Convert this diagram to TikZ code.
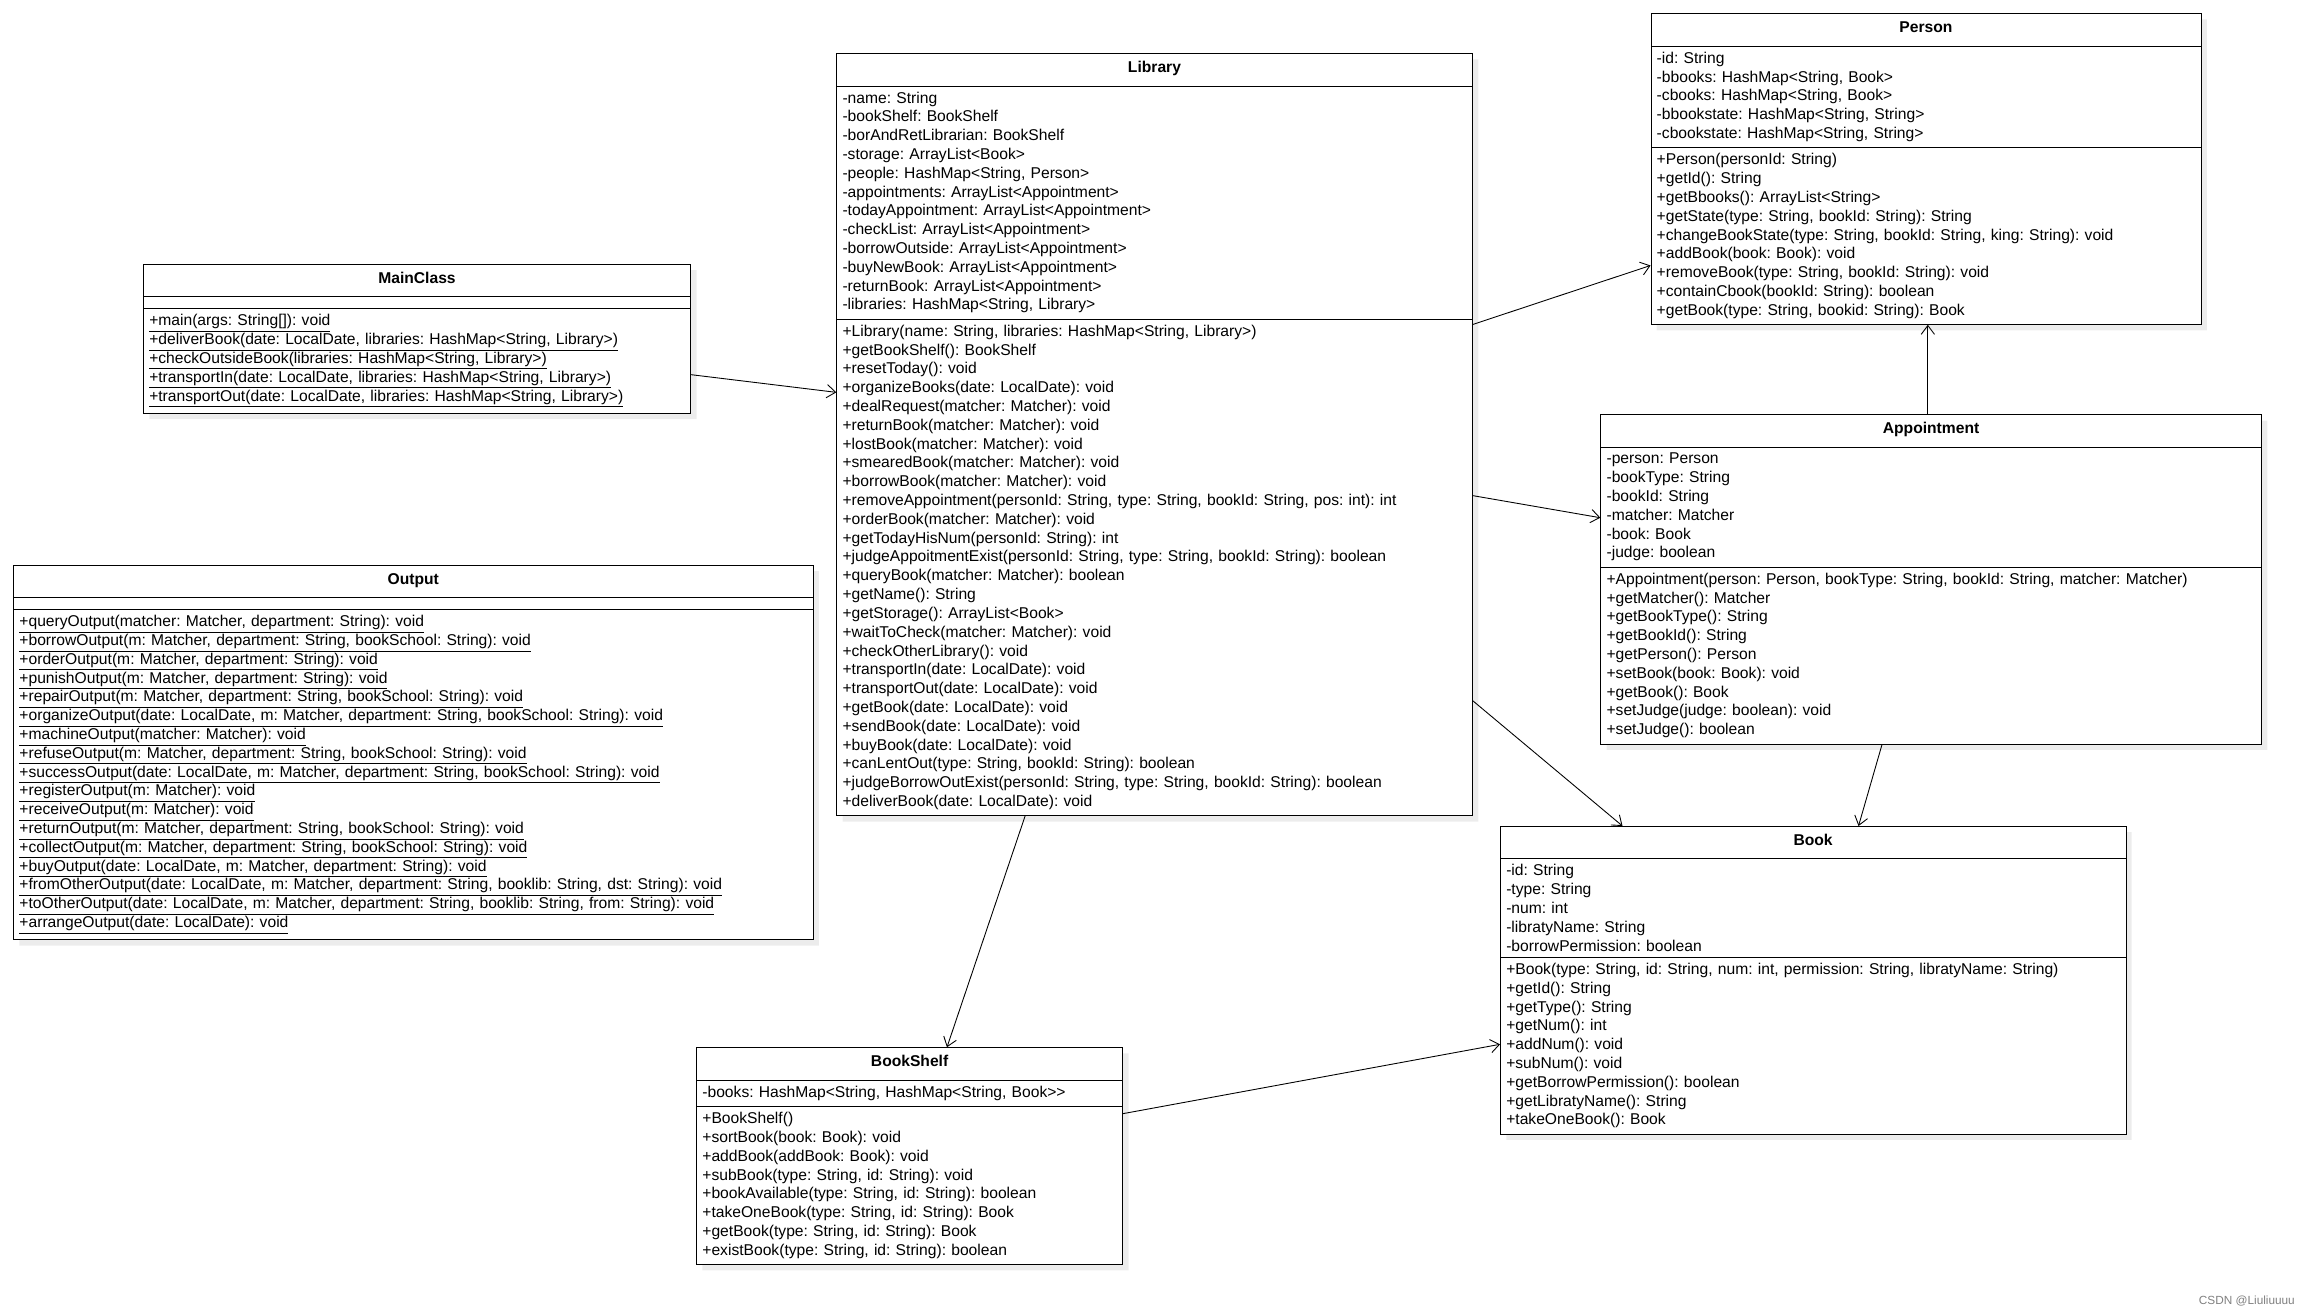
\documentclass[tikz,border=0pt]{standalone}
\usepackage{fontspec}
\setmainfont{Liberation Sans}
\usetikzlibrary{shapes.multipart, shadows, calc, arrows.meta}

\newcommand{\stl}[1]{\underline{#1}}
\newcommand{\ctitle}[1]{\makebox[\hsize][c]{\rule[-5pt]{0pt}{14pt}\textbf{#1}}}

\begin{document}
\begin{tikzpicture}[x=1pt, y=-1pt,
    umlclass/.style={draw, rectangle split, rectangle split parts=3, anchor=north west,
        fill=white, align=left, inner xsep=4pt, inner ysep=3.8pt,
        rectangle split empty part height=1pt,
        font=\fontsize{10.6}{12.75}\selectfont\frenchspacing,
        drop shadow={opacity=0.15, shadow xshift=4pt, shadow yshift=-4pt}},
    assoc/.style={draw, -{Straight Barb[length=6pt, width=9pt]}, semithick}]
    \useasboundingbox (0,0) rectangle (1560,889);

    \node[umlclass, text width=423pt] (library) at (567,36) {\ctitle{Library}
        \nodepart{two}
        -name: String\\ -bookShelf: BookShelf\\ -borAndRetLibrarian: BookShelf\\
        -storage: ArrayList<Book>\\ -people: HashMap<String, Person>\\
        -appointments: ArrayList<Appointment>\\ -todayAppointment: ArrayList<Appointment>\\
        -checkList: ArrayList<Appointment>\\ -borrowOutside: ArrayList<Appointment>\\
        -buyNewBook: ArrayList<Appointment>\\ -returnBook: ArrayList<Appointment>\\
        -libraries: HashMap<String, Library>
        \nodepart{three}
        +Library(name: String, libraries: HashMap<String, Library>)\\
        +getBookShelf(): BookShelf\\ +resetToday(): void\\
        +organizeBooks(date: LocalDate): void\\ +dealRequest(matcher: Matcher): void\\
        +returnBook(matcher: Matcher): void\\ +lostBook(matcher: Matcher): void\\
        +smearedBook(matcher: Matcher): void\\ +borrowBook(matcher: Matcher): void\\
        +removeAppointment(personId: String, type: String, bookId: String, pos: int): int\\
        +orderBook(matcher: Matcher): void\\ +getTodayHisNum(personId: String): int\\
        +judgeAppoitmentExist(personId: String, type: String, bookId: String): boolean\\
        +queryBook(matcher: Matcher): boolean\\ +getName(): String\\
        +getStorage(): ArrayList<Book>\\ +waitToCheck(matcher: Matcher): void\\
        +checkOtherLibrary(): void\\ +transportIn(date: LocalDate): void\\
        +transportOut(date: LocalDate): void\\ +getBook(date: LocalDate): void\\
        +sendBook(date: LocalDate): void\\ +buyBook(date: LocalDate): void\\
        +canLentOut(type: String, bookId: String): boolean\\
        +judgeBorrowOutExist(personId: String, type: String, bookId: String): boolean\\
        +deliverBook(date: LocalDate): void};

    \node[umlclass, text width=365pt] (person) at (1119,9) {\ctitle{Person}
        \nodepart{two}
        -id: String\\ -bbooks: HashMap<String, Book>\\ -cbooks: HashMap<String, Book>\\
        -bbookstate: HashMap<String, String>\\ -cbookstate: HashMap<String, String>
        \nodepart{three}
        +Person(personId: String)\\ +getId(): String\\ +getBbooks(): ArrayList<String>\\
        +getState(type: String, bookId: String): String\\
        +changeBookState(type: String, bookId: String, king: String): void\\
        +addBook(book: Book): void\\ +removeBook(type: String, bookId: String): void\\
        +containCbook(bookId: String): boolean\\ +getBook(type: String, bookid: String): Book};

    \node[umlclass, text width=363pt] (mainclass) at (97,179) {\ctitle{MainClass}
        \nodepart{two}
        \nodepart{three}
        \stl{+main(args: String[]): void}\\
        \stl{+deliverBook(date: LocalDate, libraries: HashMap<String, Library>)}\\
        \stl{+checkOutsideBook(libraries: HashMap<String, Library>)}\\
        \stl{+transportIn(date: LocalDate, libraries: HashMap<String, Library>)}\\
        \stl{+transportOut(date: LocalDate, libraries: HashMap<String, Library>)}};

    \node[umlclass, text width=534pt] (output) at (9,383) {\ctitle{Output}
        \nodepart{two}
        \nodepart{three}
        \stl{+queryOutput(matcher: Matcher, department: String): void}\\
        \stl{+borrowOutput(m: Matcher, department: String, bookSchool: String): void}\\
        \stl{+orderOutput(m: Matcher, department: String): void}\\
        \stl{+punishOutput(m: Matcher, department: String): void}\\
        \stl{+repairOutput(m: Matcher, department: String, bookSchool: String): void}\\
        \stl{+organizeOutput(date: LocalDate, m: Matcher, department: String, bookSchool: String): void}\\
        \stl{+machineOutput(matcher: Matcher): void}\\
        \stl{+refuseOutput(m: Matcher, department: String, bookSchool: String): void}\\
        \stl{+successOutput(date: LocalDate, m: Matcher, department: String, bookSchool: String): void}\\
        \stl{+registerOutput(m: Matcher): void}\\
        \stl{+receiveOutput(m: Matcher): void}\\
        \stl{+returnOutput(m: Matcher, department: String, bookSchool: String): void}\\
        \stl{+collectOutput(m: Matcher, department: String, bookSchool: String): void}\\
        \stl{+buyOutput(date: LocalDate, m: Matcher, department: String): void}\\
        \stl{+fromOtherOutput(date: LocalDate, m: Matcher, department: String, booklib: String, dst: String): void}\\
        \stl{+toOtherOutput(date: LocalDate, m: Matcher, department: String, booklib: String, from: String): void}\\
        \stl{+arrangeOutput(date: LocalDate): void}};

    \node[umlclass, text width=440pt] (appointment) at (1085,281) {\ctitle{Appointment}
        \nodepart{two}
        -person: Person\\ -bookType: String\\ -bookId: String\\ -matcher: Matcher\\
        -book: Book\\ -judge: boolean
        \nodepart{three}
        +Appointment(person: Person, bookType: String, bookId: String, matcher: Matcher)\\
        +getMatcher(): Matcher\\ +getBookType(): String\\ +getBookId(): String\\
        +getPerson(): Person\\ +setBook(book: Book): void\\ +getBook(): Book\\
        +setJudge(judge: boolean): void\\ +setJudge(): boolean};

    \node[umlclass, text width=416pt] (book) at (1017,560) {\ctitle{Book}
        \nodepart{two}
        -id: String\\ -type: String\\ -num: int\\ -libratyName: String\\
        -borrowPermission: boolean
        \nodepart{three}
        +Book(type: String, id: String, num: int, permission: String, libratyName: String)\\
        +getId(): String\\ +getType(): String\\ +getNum(): int\\ +addNum(): void\\
        +subNum(): void\\ +getBorrowPermission(): boolean\\ +getLibratyName(): String\\
        +takeOneBook(): Book};

    \node[umlclass, text width=281pt] (bookshelf) at (472,710) {\ctitle{BookShelf}
        \nodepart{two}
        -books: HashMap<String, HashMap<String, Book>{}>
        \nodepart{three}
        +BookShelf()\\ +sortBook(book: Book): void\\ +addBook(addBook: Book): void\\
        +subBook(type: String, id: String): void\\
        +bookAvailable(type: String, id: String): boolean\\
        +takeOneBook(type: String, id: String): Book\\
        +getBook(type: String, id: String): Book\\
        +existBook(type: String, id: String): boolean};

    \node[text=gray, font=\fontsize{8}{9}\selectfont, anchor=south east, inner sep=2pt] (mark) at (1558,888) {CSDN @Liuliuuuu};

    \draw[assoc] ($(mainclass.north east)+(0,75)$) -- ($(library.north west)+(0,230)$);
    \draw[assoc] ($(library.north east)+(0,184)$) -- ($(person.north west)+(0,171)$);
    \draw[assoc] ($(library.north east)+(0,300)$) -- ($(appointment.north west)+(0,70)$);
    \draw[assoc] ($(library.north east)+(0,439)$) -- ($(book.north west)+(83,0)$);
    \draw[assoc] ($(library.south west)+(128,0)$) -- ($(bookshelf.north west)+(170,0)$);
    \draw[assoc] ($(appointment.north west)+(222,0)$) -- ($(person.south west)+(188,0)$);
    \draw[assoc] ($(appointment.south west)+(191,0)$) -- ($(book.north west)+(243,0)$);
    \draw[assoc] ($(bookshelf.north east)+(0,45)$) -- ($(book.north west)+(0,148)$);
\end{tikzpicture}
\end{document}
